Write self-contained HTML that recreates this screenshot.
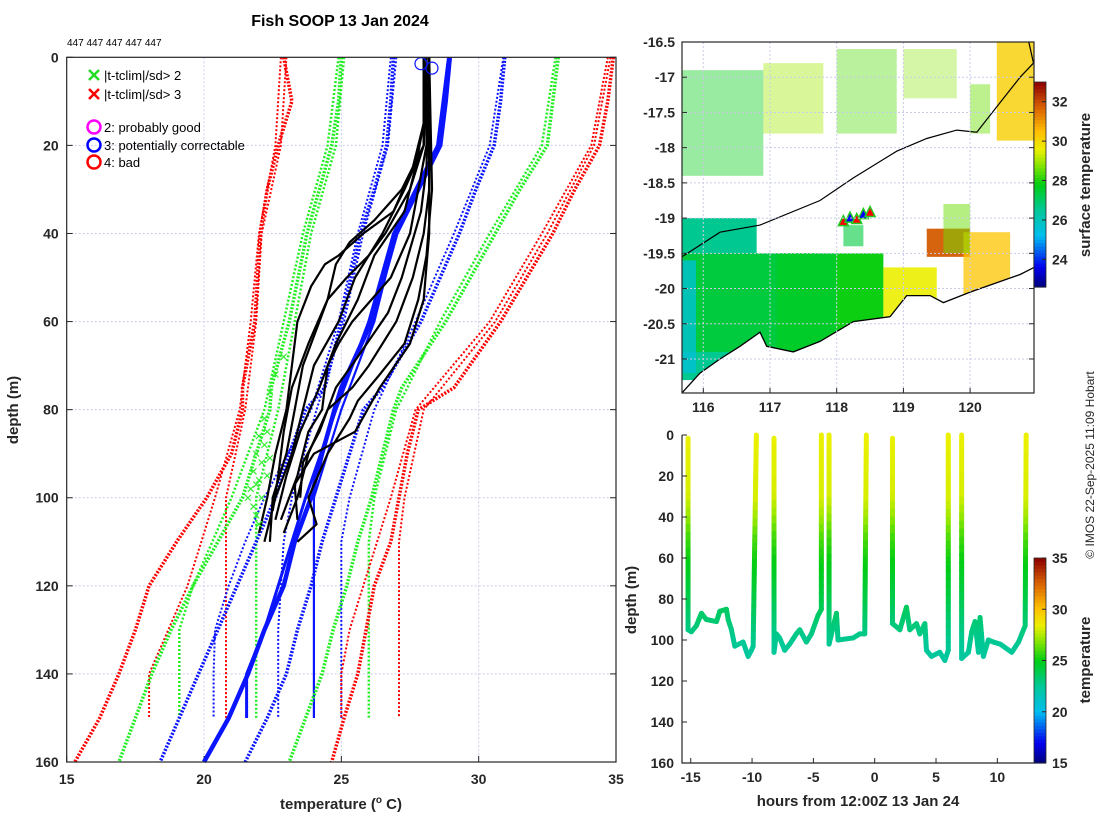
<!DOCTYPE html>
<html><head><meta charset="utf-8">
<style>
html,body{margin:0;padding:0;background:#fff;}
svg{display:block;font-family:"Liberation Sans","DejaVu Sans",sans-serif;}
.tk{font-size:14px;font-weight:bold;fill:#262626;}
.lab{font-size:15px;font-weight:bold;fill:#262626;}
</style></head>
<body>
<svg id="fig" width="1100" height="820" viewBox="0 0 1100 820" xmlns="http://www.w3.org/2000/svg">
<text x="340" y="26" text-anchor="middle" font-size="16" font-weight="bold" fill="#000">Fish SOOP 13 Jan 2024</text>
<text x="67" y="46" font-size="10" fill="#000">447 447 447 447 447</text>
<g id="left"></g>
<g id="map"></g>
<g id="trk"></g>
<text transform="translate(1094,465) rotate(-90)" text-anchor="middle" font-size="12" fill="#262626">© IMOS 22-Sep-2025 11:09 Hobart</text>
</svg>
<script>
// ---------- data: left panel ----------
const tempTicks=[15,20,25,30,35];
const depthTicks=[0,20,40,60,80,100,120,140,160];
const climDepth=[0,10,20,30,40,60,75,80,90,100,110,120,130,140,150,160];
const climRedL=[22.9,23.2,22.7,22.3,22.05,21.85,21.4,21.4,21.0,20.1,19.0,18.0,17.5,16.9,16.2,15.3];
const climGreenL=[25.0,24.9,24.65,24.2,23.75,23.1,22.45,22.4,21.9,21.4,20.5,19.6,18.8,18.1,17.5,16.9];
const climBlueL=[26.9,26.8,26.65,26.2,25.7,25.0,24.4,23.7,23.1,22.6,21.9,21.2,20.5,19.8,19.1,18.4];
const climMean=[28.95,28.8,28.6,27.8,27.0,26.1,25.0,24.75,24.3,23.9,23.3,22.9,22.2,21.6,20.9,20.0];
const climBlueR=[30.95,30.8,30.56,29.9,29.3,27.9,26.5,25.8,25.3,24.8,24.3,23.9,23.4,23.0,22.3,21.5];
const climGreenR=[32.9,32.7,32.5,31.5,30.6,28.8,27.2,26.9,26.5,26.1,25.6,25.2,24.7,24.3,23.7,23.1];
const climRedR=[34.9,34.7,34.4,33.5,32.7,30.8,29.1,27.8,27.4,27.1,26.8,26.2,25.9,25.6,25.1,24.65];
const clim2Depth=[0,20,40,60,80,100,110,120,130,140,150];
const clim2RedL=[22.8,22.6,22.0,21.7,21.3,20.4,19.9,19.4,18.7,18.0,18.0];
const clim2RedL2=[23.0,22.8,22.1,21.9,21.5,20.8,20.8,20.8,20.8,20.8,20.8];
const clim2GreenL=[24.9,24.5,23.6,22.9,22.2,21.0,20.3,19.6,19.1,19.1,19.1];
const clim2GreenL2=[25.1,24.8,23.9,23.3,22.7,21.9,21.9,21.9,21.9,21.9,21.9];
const clim2BlueL=[26.8,26.5,25.6,24.9,23.9,22.2,21.5,20.9,20.4,20.35,20.35];
const clim2BlueL2=[27.0,26.7,25.8,25.1,24.1,23.2,22.9,22.8,22.7,22.7,22.7];
const clim2Mean=[28.9,28.5,27.0,26.2,25.0,24.0,24.0,24.0,24.0,24.0,24.0];
const clim2Mean2=[28.9,28.5,26.9,26.0,24.8,23.7,23.2,22.7,22.2,21.55,21.55];
const clim2BlueR=[30.9,30.4,29.1,27.7,26.2,25.3,25.0,25.0,25.0,25.0,25.0];
const clim2GreenR=[32.8,32.3,30.4,28.6,27.0,26.2,26.0,26.0,26.0,26.0,26.0];
const clim2RedR=[34.8,34.2,32.5,30.6,28.0,27.3,27.1,27.1,27.1,27.1,27.1];
const clim2RedR2=[34.7,34.1,32.3,30.4,27.7,26.8,26.3,25.8,25.3,25.0,25.0];
const profDepths=[
[0,15,25,35,40,45,47,52,60,70,80,90,100,108],
[0,20,30,40,45,50,55,60,70,80,90,100,110],
[0,20,30,40,50,60,65,70,80,85,95,105],
[0,30,40,50,60,70,75,80,90,100,108],
[0,30,45,55,65,72,78,82,90,100,106,110],
[0,15,25,35,45,55,65,75,85,95,105],
[0,20,30,37,42,47,55,65,75,85,95,103],
[0,25,35,50,58,68,75,85,92,100],
[0,25,40,55,65,75,85,90,97,105],
[0,20,30,40,50,60,70,80,90,100,110]];
const profTemps=[
[28,28,27.6,26.9,25.8,24.9,24.4,23.9,23.4,23.2,23.0,22.6,22.3,22.0],
[28.1,28.0,27.5,26.6,26.0,25.2,24.5,24.2,23.6,23.3,23.0,22.5,22.4],
[28.1,28.1,27.8,27.5,26.8,25.4,24.9,24.5,24.3,23.8,23.4,22.8],
[28.2,28.2,28.0,27.6,27.0,26.0,25.4,24.5,23.8,23.4,22.9],
[28.2,28.3,28.1,27.8,27.3,26.4,25.6,25.3,24.5,23.8,24.1,23.4],
[28,28,27.7,27.3,26.2,25.6,24.8,24.2,23.5,23.0,22.6],
[28.1,28.0,27.2,26.2,25.3,24.8,24.5,23.8,23.2,22.9,22.7,22.5],
[28.2,28.1,27.9,27.2,26.7,25.6,24.8,24.2,23.6,23.5],
[28.1,28.2,28.2,28.0,27.5,26.4,25.5,24.0,23.3,23.4],
[28.0,28.0,27.3,26.5,25.5,24.9,24.0,23.6,23.2,22.6,22.2]];
const flagDepths=[68,72,76,82,86,88,90,92,94,96,98,100,102,104,95,91,97,100,85,106];
const flagTemps=[22.9,22.6,22.4,22.2,22.0,22.2,21.9,22.1,21.8,22.0,21.7,22.1,21.8,21.9,22.3,22.4,21.9,21.6,22.3,22.0];
const circDepths=[1,2];
const circTemps=[27.9,28.3];

// ---------- data: map ----------
const lonTicks=[116,117,118,119,120];
const latTicks=[-16.5,-17,-17.5,-18,-18.5,-19,-19.5,-20,-20.5,-21];
const sstTicks=[24,26,28,30,32];
const coastLon=[115.68,115.95,116.25,116.55,116.85,116.95,117.35,117.75,118.25,118.8,119.05,119.4,119.6,120.0,120.75,120.96];
const coastLat=[-21.48,-21.2,-21.0,-20.82,-20.62,-20.82,-20.9,-20.75,-20.47,-20.4,-20.1,-20.1,-20.2,-20.05,-19.8,-19.7];
const shelfLon=[115.68,116.25,116.85,117.75,118.25,118.9,119.35,119.8,120.1,120.4,120.75,120.95,120.88];
const shelfLat=[-19.55,-19.2,-19.1,-18.75,-18.43,-18.05,-17.87,-17.75,-17.78,-17.42,-17.0,-16.8,-16.5];
const patchLon0=[115.68,115.68,117.1,118.0,118.7,119.35,119.9,120.4,115.68,116.9,118.0,119.0,118.1,119.6,120.0];
const patchLat0=[-19.0,-19.5,-19.5,-19.5,-19.7,-19.15,-19.2,-16.5,-16.9,-16.8,-16.6,-16.6,-19.1,-18.8,-17.1];
const patchLon1=[116.8,117.7,118.0,118.7,119.5,120.0,120.6,120.96,116.9,117.8,118.9,119.8,118.4,120.0,120.3];
const patchLat1=[-21.3,-20.9,-20.9,-20.6,-20.4,-19.55,-20.1,-17.9,-18.4,-17.8,-17.8,-17.3,-19.4,-19.5,-17.8];
const patchTemp=[26.6,27.4,27.6,27.9,29.6,31.8,30.4,30.2,27.8,29.0,28.4,28.8,27.4,28.6,28.6];
const patchOp=[1,1,1,1,0.9,0.95,0.75,0.8,0.4,0.4,0.4,0.35,0.6,0.5,0.45];
const shipLon=[118.1,118.2,118.3,118.4,118.5];
const shipLat=[-19.05,-19.0,-19.02,-18.95,-18.92];

// ---------- data: depth-time track ----------
const hourTicks=[-15,-10,-5,0,5,10];
const trkDepthTicks=[0,20,40,60,80,100,120,140,160];
const ctTicks=[15,20,25,30,35];
const seg1H=[-15.22,-15.22,-14.95,-14.54,-14.13,-13.73,-12.9,-12.63,-12.09,-11.95,-11.68,-11.41,-10.73,-10.32,-10.05,-9.91,-9.65];
const seg1D=[1.6,95,96,93,87,90,91,86,85,90,95,103,101,108,105,103,0];
const seg2H=[-8.21,-8.21,-8.02,-7.75,-7.34,-6.93,-6.39,-6.11,-5.57,-5.16,-4.62,-4.35,-4.35];
const seg2D=[1.6,106,97,99,105,102,97,95,101,97,88,85,0];
const seg3H=[-3.72,-3.72,-3.12,-2.99,-1.76,-1.22,-0.81,-0.68];
const seg3D=[0,102,87,100,99,97,97,0];
const seg4H=[1.45,1.45,2.05,2.59,2.86,3.41,3.68,4.09,4.22,4.63,5.31,5.72,6.0,6.0];
const seg4D=[1.6,92,95,84,95,92,97,92,105,108,106,110,105,0];
const seg5H=[7.09,7.09,7.64,7.91,8.18,8.46,8.59,8.86,9.27,9.68,10.23,11.18,11.73,12.27,12.35];
const seg5D=[0,109,106,96,91,106,89,108,100,101,102,106,101,93,0];
const tempProfD=[0,30,40,50,60,70,80,90,100,110];
const tempProfT=[28.4,28.1,27.2,26.0,25.2,24.6,24.0,23.3,22.7,22.3];

// ---------- helpers ----------
const NS="http://www.w3.org/2000/svg";
function mk(tag,attrs,parent){const e=document.createElementNS(NS,tag);for(const k in attrs)e.setAttribute(k,attrs[k]);parent.appendChild(e);return e;}
function jet(v){
  const stops=[[0,[0,0,120]],[0.1,[0,0,240]],[0.25,[0,190,240]],[0.38,[0,200,150]],[0.5,[0,205,20]],[0.6,[140,230,0]],[0.67,[235,240,0]],[0.76,[255,190,0]],[0.88,[215,95,0]],[1,[140,0,0]]];
  v=Math.max(0,Math.min(1,v));
  for(let i=1;i<stops.length;i++){if(v<=stops[i][0]){const a=stops[i-1],b=stops[i];const f=(v-a[0])/(b[0]-a[0]);const c=a[1].map((x,j)=>Math.round(x+(b[1][j]-x)*f));return `rgb(${c[0]},${c[1]},${c[2]})`;}}
  return 'rgb(140,0,0)';
}
function interp(xs,ys,x){if(x<=xs[0])return ys[0];for(let i=1;i<xs.length;i++){if(x<=xs[i]){const f=(x-xs[i-1])/(xs[i]-xs[i-1]);return ys[i-1]+f*(ys[i]-ys[i-1]);}}return ys[ys.length-1];}

// ---------- left panel ----------
const L=document.getElementById('left');
const LX0=66.7,LX1=616,LY0=57.3,LY1=762;
const xT=t=>LX0+(t-15)*(LX1-LX0)/20;
const yD=d=>LY0+d*(LY1-LY0)/160;
let g;
tempTicks.forEach(t=>{
  if(t>15&&t<35){g=mk('line',{x1:xT(t),x2:xT(t),y1:LY0,y2:LY1,stroke:'#c8cce8','stroke-dasharray':'2,2','stroke-width':1},L);
  }
  g=mk('text',{x:xT(t),y:LY1+22,'text-anchor':'middle',class:'tk'},L);g.textContent=t;
  
  mk('line',{x1:xT(t),x2:xT(t),y1:LY1,y2:LY1-6,stroke:'#262626'},L);
});
depthTicks.forEach(d=>{
  if(d>0&&d<160){g=mk('line',{x1:LX0,x2:LX1,y1:yD(d),y2:yD(d),stroke:'#c8cce8','stroke-dasharray':'2,2','stroke-width':1},L);
  }
  g=mk('text',{x:LX0-8,y:yD(d)+5,'text-anchor':'end',class:'tk'},L);g.textContent=d;
  
  mk('line',{x1:LX0,x2:LX0+6,y1:yD(d),y2:yD(d),stroke:'#262626'},L);
  mk('line',{x1:LX1,x2:LX1-6,y1:yD(d),y2:yD(d),stroke:'#262626'},L);
});
function line(ds,ts,color,w,dash,name,parent){
  const p=ds.map((d,i)=>`${xT(ts[i]).toFixed(1)},${yD(d).toFixed(1)}`).join(' ');
  const e=mk('polyline',{points:p,fill:'none',stroke:color,'stroke-width':w,'stroke-linejoin':'round'},parent||L);
  if(dash)e.setAttribute('stroke-dasharray',dash);
  return e;
}
const RED='#ff0000',GRN='#22ee22',BLU='#0a14ff';
line(clim2Depth,clim2RedL,RED,2,'2,2','clim2-minus3sd');
line(clim2Depth,clim2RedL2,RED,2,'2,2','clim2-minus3sd-b');
line(clim2Depth,clim2GreenL,GRN,2.5,'2,2','clim2-minus2sd');
line(clim2Depth,clim2GreenL2,GRN,2.5,'2,2','clim2-minus2sd-b');
line(clim2Depth,clim2BlueL,BLU,2,'2,2','clim2-minus1sd');
line(clim2Depth,clim2BlueL2,BLU,2,'2,2','clim2-minus1sd-b');
line(clim2Depth,clim2BlueR,BLU,2,'2,2','clim2-plus1sd');
line(clim2Depth,clim2GreenR,GRN,2.5,'2,2','clim2-plus2sd');
line(clim2Depth,clim2RedR,RED,2,'2,2','clim2-plus3sd');
line(clim2Depth,clim2RedR2,RED,2,'2,2','clim2-plus3sd-b');
line(clim2Depth,clim2Mean,BLU,2.2,null,'clim2-mean');
line(clim2Depth,clim2Mean2,BLU,3,null,'clim2-mean-b');
line(climDepth,climRedL,RED,3.5,'2,1.5','clim-minus3sd');
line(climDepth,climGreenL,GRN,3.5,'2,1.5','clim-minus2sd');
line(climDepth,climBlueL,BLU,3.5,'2,1.5','clim-minus1sd');
line(climDepth,climBlueR,BLU,3.5,'2,1.5','clim-plus1sd');
line(climDepth,climGreenR,GRN,3.5,'2,1.5','clim-plus2sd');
line(climDepth,climRedR,RED,3.5,'2,1.5','clim-plus3sd');
line(climDepth,climMean,BLU,4.5,null,'clim-mean');
profDepths.forEach((ds,i)=>{line(ds,profTemps[i],'#000',2.2,null,'xbt-profile-'+(i+1));});
flagDepths.forEach((d,i)=>{
  const x=xT(flagTemps[i]),y=yD(d);
  const e=mk('path',{d:`M${x-3},${y-3}L${x+3},${y+3}M${x-3},${y+3}L${x+3},${y-3}`,stroke:'#33ee33','stroke-width':1.2},L);
  
});
circDepths.forEach((d,i)=>{
  const e=mk('circle',{cx:xT(circTemps[i]),cy:yD(d)+2,r:6,fill:'none',stroke:BLU,'stroke-width':1.2},L);
  
});
g=mk('rect',{x:LX0,y:LY0,width:LX1-LX0,height:LY1-LY0,fill:'none',stroke:'#262626','stroke-width':1.2},L);

const leg=mk('g',{},L);
[['|t-tclim|/sd> 2','#22dd22',75],['|t-tclim|/sd> 3','#ff0000',94]].forEach(a=>{
  const y=a[2];mk('path',{d:`M89,${y-5}L99,${y+5}M89,${y+5}L99,${y-5}`,stroke:a[1],'stroke-width':2.5},leg);
  const t=mk('text',{x:104,y:y+5,'font-size':13,fill:'#000'},leg);t.textContent=a[0];
  
});
[['2: probably good','#ff00ff',127],['3: potentially correctable','#0000ff',145],['4: bad','#ff0000',162]].forEach(a=>{
  const y=a[2];mk('circle',{cx:94,cy:y,r:6.5,fill:'none',stroke:a[1],'stroke-width':2.5},leg);
  const t=mk('text',{x:104,y:y+5,'font-size':13,fill:'#000'},leg);t.textContent=a[0];
  
});
g=mk('text',{transform:'translate(18,410) rotate(-90)','text-anchor':'middle',class:'lab'},L);g.textContent='depth (m)';

g=mk('text',{x:341,y:809,'text-anchor':'middle',class:'lab'},L);
g.innerHTML='temperature (<tspan dy="-6" font-size="10">o</tspan><tspan dy="6"> C)</tspan>';


// ---------- map ----------
const M=document.getElementById('map');
const MX0=682,MX1=1034,MY0=42,MY1=393;
const xLon=l=>703.3+(l-116)*66.7;
const yLat=l=>42+(-16.5-l)*70.44;
const defs=mk('defs',{},M);const cp=mk('clipPath',{id:'mclip'},defs);mk('rect',{x:MX0,y:MY0,width:MX1-MX0,height:MY1-MY0},cp);
const mg=mk('g',{'clip-path':'url(#mclip)'},M);
const sstC=t=>jet((t-22.6)/(33-22.6));
patchLon0.forEach((l0,i)=>{
  const x0=xLon(l0),x1=xLon(patchLon1[i]),y0=yLat(patchLat0[i]),y1=yLat(patchLat1[i]);
  const e=mk('rect',{x:Math.min(x0,x1),y:Math.min(y0,y1),width:Math.abs(x1-x0),height:Math.abs(y1-y0),fill:sstC(patchTemp[i]),opacity:patchOp[i]},mg);
  
});
g=mk('rect',{x:MX0,y:yLat(-19.6),width:14,height:yLat(-21.2)-yLat(-19.6),fill:sstC(25.6),opacity:0.8},mg);

const coastPts=coastLon.map((l,i)=>`${xLon(l).toFixed(1)},${yLat(coastLat[i]).toFixed(1)}`);
g=mk('polygon',{points:coastPts.join(' ')+` ${MX1},${MY1} ${MX0},${MY1}`,fill:'#fff'},mg);

g=mk('polyline',{points:coastPts.join(' '),fill:'none',stroke:'#000','stroke-width':1.3},mg);

g=mk('polyline',{points:shelfLon.map((l,i)=>`${xLon(l).toFixed(1)},${yLat(shelfLat[i]).toFixed(1)}`).join(' '),fill:'none',stroke:'#000','stroke-width':1.2},mg);

shipLon.forEach((l,i)=>{
  const x=xLon(l),y=yLat(shipLat[i]);
  const e=mk('path',{d:`M${x},${y-6}L${x+5},${y+4}L${x-5},${y+4}Z`,fill:i%2?'#0000ff':'#ff0000',stroke:'#22cc22','stroke-width':1.5},mg);
  
});
lonTicks.forEach(l=>{
  mk('line',{x1:xLon(l),x2:xLon(l),y1:MY0,y2:MY1,stroke:'#c8cce8','stroke-dasharray':'2,2'},M);
  mk('line',{x1:xLon(l),x2:xLon(l),y1:MY1,y2:MY1-5,stroke:'#262626'},M);
  g=mk('text',{x:xLon(l),y:MY1+19,'text-anchor':'middle',class:'tk'},M);g.textContent=l;
  
});
latTicks.forEach(l=>{
  mk('line',{x1:MX0,x2:MX1,y1:yLat(l),y2:yLat(l),stroke:'#c8cce8','stroke-dasharray':'2,2'},M);
  mk('line',{x1:MX0,x2:MX0+5,y1:yLat(l),y2:yLat(l),stroke:'#262626'},M);
  mk('line',{x1:MX1,x2:MX1-5,y1:yLat(l),y2:yLat(l),stroke:'#262626'},M);
  g=mk('text',{x:MX0-7,y:yLat(l)+5,'text-anchor':'end',class:'tk'},M);g.textContent=l;
  
});
g=mk('rect',{x:MX0,y:MY0,width:MX1-MX0,height:MY1-MY0,fill:'none',stroke:'#262626','stroke-width':1.2},M);

function colorbar(parent,x,y0,y1,vmin,vmax,ticks,name){
  const n=60,h=(y1-y0)/n;
  for(let i=0;i<n;i++){mk('rect',{x:x,y:y1-(i+1)*h,width:12,height:h+0.6,fill:jet((i+0.5)/n)},parent);}
  const f=mk('rect',{x:x,y:y0,width:12,height:y1-y0,fill:'none',stroke:'#262626','stroke-width':0.8},parent);
  
  ticks.forEach(t=>{const y=y1-(t-vmin)/(vmax-vmin)*(y1-y0);
    mk('line',{x1:x+12,x2:x+8,y1:y,y2:y,stroke:'#262626'},parent);
    const e=mk('text',{x:x+18,y:y+5,class:'tk'},parent);e.textContent=t;
    });
}
colorbar(M,1034,82,287,22.6,33,sstTicks,'sst-colorbar');
g=mk('text',{transform:'translate(1090,185) rotate(-90)','text-anchor':'middle',class:'lab'},M);g.textContent='surface temperature';


// ---------- depth-time track ----------
const T=document.getElementById('trk');
const BX0=682,BX1=1034,BY0=435,BY1=763;
const xH=h=>874.7+h*12.264;
const yB=d=>BY0+d*(BY1-BY0)/160;
const tC=t=>jet((t-15)/20);
[[seg1H,seg1D],[seg2H,seg2D],[seg3H,seg3D],[seg4H,seg4D],[seg5H,seg5D]].forEach((s,k)=>{
  const sg=mk('g',{},T);
  const H=s[0],D=s[1];
  for(let i=1;i<H.length;i++){
    const steps=Math.max(1,Math.ceil(Math.abs(D[i]-D[i-1])/4));
    for(let j=0;j<steps;j++){
      const f0=j/steps,f1=(j+1)/steps;
      const h0=H[i-1]+(H[i]-H[i-1])*f0,h1=H[i-1]+(H[i]-H[i-1])*f1;
      const d0=D[i-1]+(D[i]-D[i-1])*f0,d1=D[i-1]+(D[i]-D[i-1])*f1;
      mk('line',{x1:xH(h0),y1:yB(d0),x2:xH(h1),y2:yB(d1),stroke:tC(interp(tempProfD,tempProfT,(d0+d1)/2)),'stroke-width':5,'stroke-linecap':'round'},sg);
    }
  }
});
hourTicks.forEach(h=>{
  mk('line',{x1:xH(h),x2:xH(h),y1:BY1,y2:BY1-5,stroke:'#262626'},T);
  g=mk('text',{x:xH(h),y:BY1+19,'text-anchor':'middle',class:'tk'},T);g.textContent=h;
  
});
trkDepthTicks.forEach(d=>{
  mk('line',{x1:BX0,x2:BX0+5,y1:yB(d),y2:yB(d),stroke:'#262626'},T);
  g=mk('text',{x:BX0-8,y:yB(d)+5,'text-anchor':'end',class:'tk'},T);g.textContent=d;
  
});
g=mk('path',{d:`M${BX0},${BY0}V${BY1}H${BX1}`,fill:'none',stroke:'#262626','stroke-width':1.2},T);

colorbar(T,1034,558,763,15,35,ctTicks,'temperature-colorbar');
g=mk('text',{transform:'translate(636,600) rotate(-90)','text-anchor':'middle',class:'lab'},T);g.textContent='depth (m)';

g=mk('text',{x:858,y:806,'text-anchor':'middle',class:'lab'},T);g.textContent='hours from 12:00Z 13 Jan 24';

g=mk('text',{transform:'translate(1090,660) rotate(-90)','text-anchor':'middle',class:'lab'},T);g.textContent='temperature';

</script>
</body></html>
